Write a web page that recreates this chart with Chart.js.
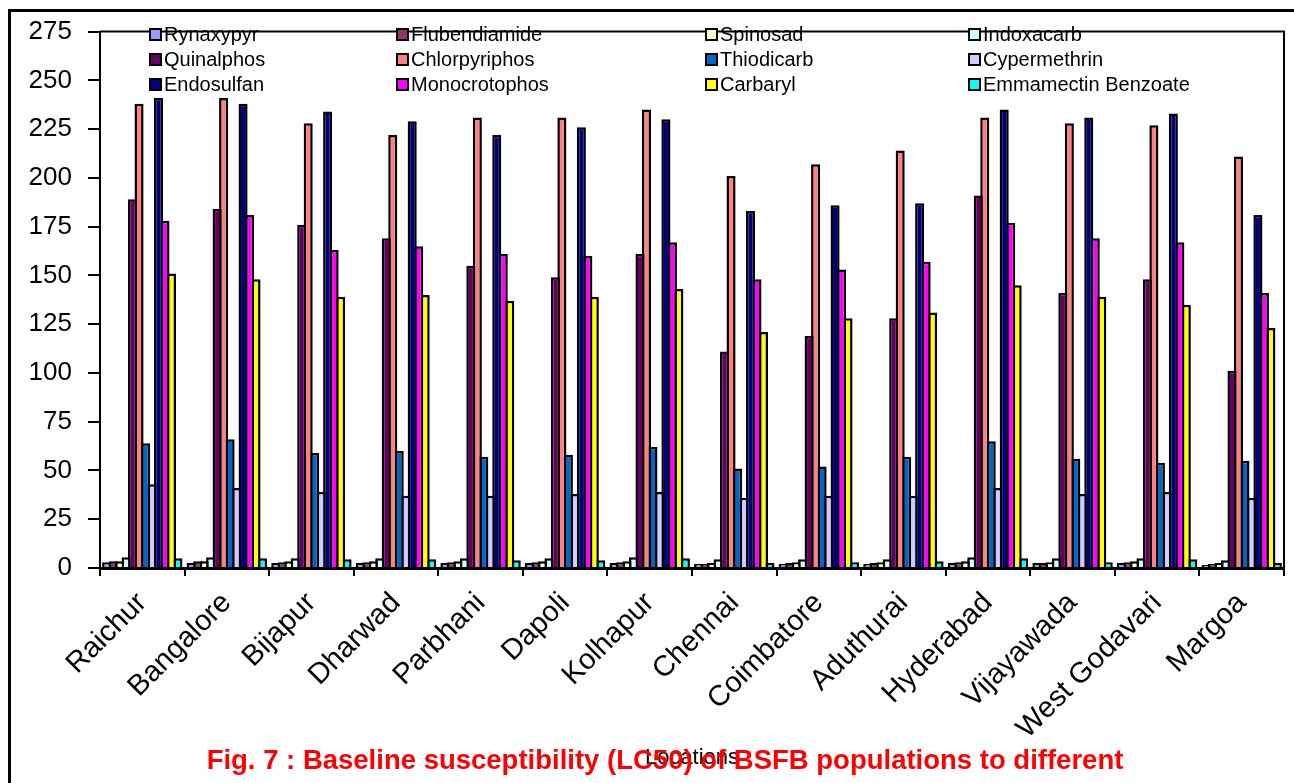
<!DOCTYPE html>
<html lang="en">
<head>
  <meta charset="UTF-8">
  <title>Baseline susceptibility (LC50) of BSFB populations</title>
  <script src="https://cdn.jsdelivr.net/npm/chart.js"></script>
  <style>
    body { margin: 0; padding: 0; background: #fff; }
    #wrap { width: 1294px; height: 783px; position: relative; }
  </style>
</head>
<body>
  <div id="wrap"><canvas id="lcChart" width="1294" height="783"></canvas></div>

  <script>
    // Locations
    const locations = ['Raichur', 'Bangalore', 'Bijapur', 'Dharwad', 'Parbhani', 'Dapoli', 'Kolhapur',
      'Chennai', 'Coimbatore', 'Aduthurai', 'Hyderabad', 'Vijayawada', 'West Godavari', 'Margoa'];

    // LC50 values per insecticide
    const rynaxypyr     = [3, 2.5, 2.5, 2.5, 2.5, 2.5, 2.5, 2, 2, 2, 2.5, 2.5, 2.5, 1.5];
    const flubendiamide = [3.5, 3.5, 3, 3, 3, 3, 3, 2, 2.5, 2.5, 3, 2.5, 3, 2];
    const spinosad      = [3.5, 3.5, 3.5, 3.5, 3.5, 3.5, 3.5, 2.5, 3, 3, 3.5, 3, 3.5, 2.5];
    const indoxacarb    = [5.5, 5.5, 5, 5, 5, 5, 5.5, 4.5, 4.5, 4.5, 5.5, 5, 5, 4];
    const quinalphos    = [189, 184, 176, 169, 155, 149, 161, 111, 119, 128, 191, 141, 148, 101];
    const chlorpyriphos = [238, 241, 228, 222, 231, 231, 235, 201, 207, 214, 231, 228, 227, 211];
    const thiodicarb    = [64, 66, 59, 60, 57, 58, 62, 51, 52, 57, 65, 56, 54, 55];
    const cypermethrin  = [43, 41, 39, 37, 37, 38, 39, 36, 37, 37, 41, 38, 39, 36];
    const endosulfan    = [241, 238, 234, 229, 222, 226, 230, 183, 186, 187, 235, 231, 233, 181];
    const monocrotophos = [178, 181, 163, 165, 161, 160, 167, 148, 153, 157, 177, 169, 167, 141];
    const carbaryl      = [151, 148, 139, 140, 137, 139, 143, 121, 128, 131, 145, 139, 135, 123];
    const emmamectin    = [5, 5, 4.5, 4.5, 4, 4, 5, 2.5, 3, 3.5, 5, 3, 4.5, 2.5];

    // y axis
    const yMax = 275;
    const yStep = 25;

    const FONT = '"Liberation Sans", Arial, sans-serif';

    const series = [
      { label: 'Rynaxypyr', data: rynaxypyr, color: '#9999FF' },
      { label: 'Flubendiamide', data: flubendiamide, color: '#993366' },
      { label: 'Spinosad', data: spinosad, color: '#FFFFCC' },
      { label: 'Indoxacarb', data: indoxacarb, color: '#CCFFFF' },
      { label: 'Quinalphos', data: quinalphos, color: '#660066' },
      { label: 'Chlorpyriphos', data: chlorpyriphos, color: '#FF8080' },
      { label: 'Thiodicarb', data: thiodicarb, color: '#0066CC' },
      { label: 'Cypermethrin', data: cypermethrin, color: '#CCCCFF' },
      { label: 'Endosulfan', data: endosulfan, color: '#000080' },
      { label: 'Monocrotophos', data: monocrotophos, color: '#FF00FF' },
      { label: 'Carbaryl', data: carbaryl, color: '#FFFF00' },
      { label: 'Emmamectin Benzoate', data: emmamectin, color: '#00FFFF' }
    ];

    // frame, plot box, 4-column legend and the red caption
    const decorations = {
      id: 'decorations',
      beforeDraw(chart) {
        const ctx = chart.ctx;
        ctx.save();
        ctx.strokeStyle = '#000';
        ctx.lineWidth = 3;
        ctx.strokeRect(9.5, 10.5, 1400, 900);
        ctx.restore();
      },
      afterDatasetsDraw(chart) {
        const ctx = chart.ctx;
        const a = chart.chartArea;
        ctx.save();
        ctx.strokeStyle = '#000';
        ctx.lineWidth = 2;
        ctx.beginPath();
        ctx.moveTo(a.left, a.top);
        ctx.lineTo(a.right, a.top);
        ctx.lineTo(a.right, a.bottom);
        ctx.stroke();

        // legend grid
        const colX = [150, 397, 706, 969];
        const rowY = [35, 60, 85];
        ctx.font = '20px ' + FONT;
        ctx.textBaseline = 'middle';
        ctx.textAlign = 'left';
        chart.data.datasets.forEach((ds, i) => {
          const x = colX[i % 4];
          const y = rowY[Math.floor(i / 4)];
          ctx.fillStyle = ds.backgroundColor;
          ctx.fillRect(x, y - 6, 11, 11);
          ctx.lineWidth = 2;
          ctx.strokeStyle = '#000';
          ctx.strokeRect(x, y - 6, 11, 11);
          ctx.fillStyle = '#000';
          ctx.fillText(ds.label, x + 14, y);
        });

        // caption
        ctx.font = 'bold 27.5px ' + FONT;
        ctx.fillStyle = '#FF0000';
        ctx.textAlign = 'center';
        ctx.fillText('Fig. 7 : Baseline susceptibility (LC50) of BSFB populations to different', 665, 761);
        ctx.restore();
      }
    };

    document.addEventListener('DOMContentLoaded', function () {
      const ctx = document.getElementById('lcChart').getContext('2d');
      new Chart(ctx, {
        type: 'bar',
        data: {
          labels: locations,
          datasets: series.map(s => ({
            label: s.label,
            data: s.data,
            backgroundColor: s.color,
            borderColor: '#000',
            borderWidth: 2.5,
            categoryPercentage: 0.92,
            barPercentage: 1.4
          }))
        },
        options: {
          responsive: false,
          animation: false,
          layout: { padding: { left: 0, top: 31, right: 10, bottom: 0 } },
          plugins: {
            legend: { display: false },
            tooltip: { enabled: false }
          },
          scales: {
            x: {
              afterFit(scale) { scale.height = 215; },
              grid: {
                drawOnChartArea: false,
                drawTicks: true,
                tickLength: 8,
                color: '#000',
                lineWidth: 2
              },
              border: { color: '#000', width: 3 },
              ticks: {
                color: '#000',
                minRotation: 45,
                maxRotation: 45,
                autoSkip: false,
                padding: 10,
                font: { family: FONT, size: 29 }
              },
              title: {
                display: true,
                text: 'Locations',
                color: '#000',
                font: { family: FONT, size: 22 },
                padding: { top: 0, bottom: 12 }
              }
            },
            y: {
              min: 0,
              max: yMax,
              afterFit(scale) { scale.width = 100; },
              grid: {
                drawOnChartArea: false,
                drawTicks: true,
                tickLength: 12,
                color: '#000',
                lineWidth: 2
              },
              border: { color: '#000', width: 2 },
              ticks: {
                stepSize: yStep,
                color: '#000',
                padding: 16,
                font: { family: FONT, size: 26 }
              }
            }
          }
        },
        plugins: [decorations]
      });
    });
  </script>
</body>
</html>
